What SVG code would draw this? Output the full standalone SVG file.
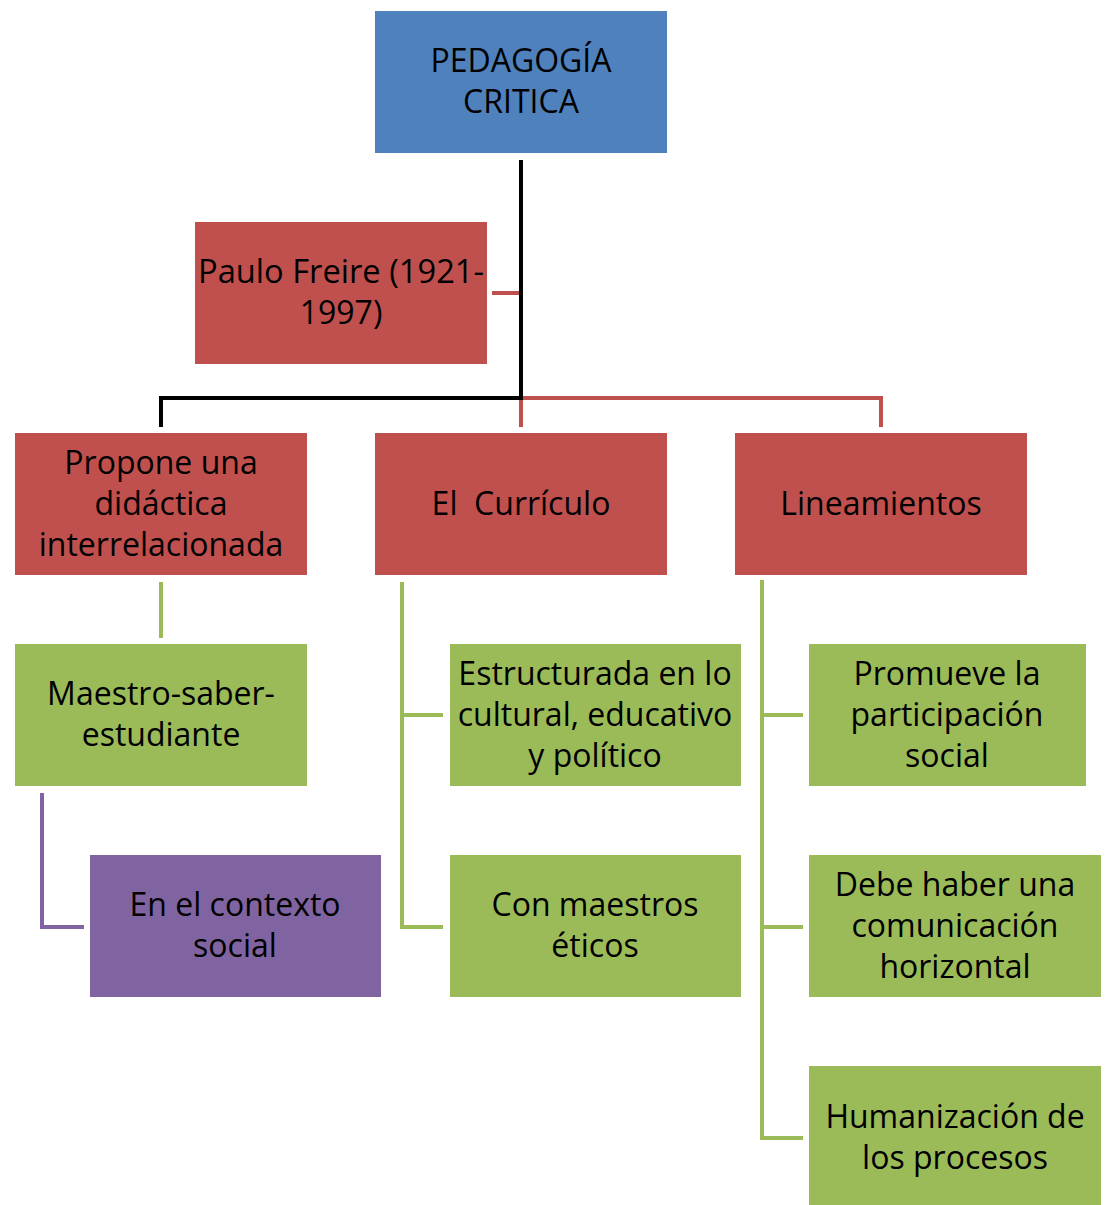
<svg xmlns="http://www.w3.org/2000/svg" width="1107" height="1205" viewBox="0 0 1107 1205">
<style>
text{font-family:"Open Sans","Noto Sans",sans-serif;font-size:32px;fill:#000;text-anchor:middle}
.blue{fill:#4F81BD}.red{fill:#C0504D}.green{fill:#9BBB59}.purple{fill:#8064A2}
.c{fill:none;stroke-width:4}
</style>
<rect width="1107" height="1205" fill="#fff"/>
<g id="connectors">
<path class="c" d="M521 160V398H161V427" stroke="#000"/>
<path class="c" d="M492 293H519" stroke="#C0504D"/>
<path class="c" d="M523 398H881V427M521 400V427" stroke="#C0504D"/>
<path class="c" d="M161 582V638" stroke="#9BBB59"/>
<path class="c" d="M42 793V927H84" stroke="#8064A2"/>
<path class="c" d="M402 582V927H443M402 715H443" stroke="#9BBB59"/>
<path class="c" d="M762 580V1138H803M762 715H803M762 927H803" stroke="#9BBB59"/>
</g>
<g id="n-pedagogia"><rect class="blue" x="375" y="11" width="292" height="142"/><text x="521" y="72">PEDAGOGÍA</text><text x="521" y="113">CRITICA</text></g>
<g id="n-freire"><rect class="red" x="195" y="222" width="292" height="142"/><text x="341" y="283" textLength="286" lengthAdjust="spacingAndGlyphs">Paulo Freire (1921-</text><text x="341" y="324">1997)</text></g>
<g id="n-propone"><rect class="red" x="15" y="433" width="292" height="142"/><text x="161" y="474">Propone una</text><text x="161" y="515">didáctica</text><text x="161" y="556">interrelacionada</text></g>
<g id="n-curriculo"><rect class="red" x="375" y="433" width="292" height="142"/><text x="521" y="515" xml:space="preserve">El  Currículo</text></g>
<g id="n-lineamientos"><rect class="red" x="735" y="433" width="292" height="142"/><text x="881" y="515">Lineamientos</text></g>
<g id="n-maestro"><rect class="green" x="15" y="644" width="292" height="142"/><text x="161" y="705">Maestro-saber-</text><text x="161" y="746">estudiante</text></g>
<g id="n-contexto"><rect class="purple" x="90" y="855" width="291" height="142"/><text x="235" y="916">En el contexto</text><text x="235" y="957">social</text></g>
<g id="n-estructurada"><rect class="green" x="450" y="644" width="291" height="142"/><text x="595" y="685">Estructurada en lo</text><text x="595" y="726">cultural, educativo</text><text x="595" y="767">y político</text></g>
<g id="n-eticos"><rect class="green" x="450" y="855" width="291" height="142"/><text x="595" y="916">Con maestros</text><text x="595" y="957">éticos</text></g>
<g id="n-promueve"><rect class="green" x="809" y="644" width="277" height="142"/><text x="947" y="685">Promueve la</text><text x="947" y="726">participación</text><text x="947" y="767">social</text></g>
<g id="n-debe"><rect class="green" x="809" y="855" width="292" height="142"/><text x="955" y="896">Debe haber una</text><text x="955" y="937">comunicación</text><text x="955" y="978">horizontal</text></g>
<g id="n-humanizacion"><rect class="green" x="809" y="1066" width="292" height="142"/><text x="955" y="1128">Humanización de</text><text x="955" y="1169">los procesos</text></g>
</svg>
